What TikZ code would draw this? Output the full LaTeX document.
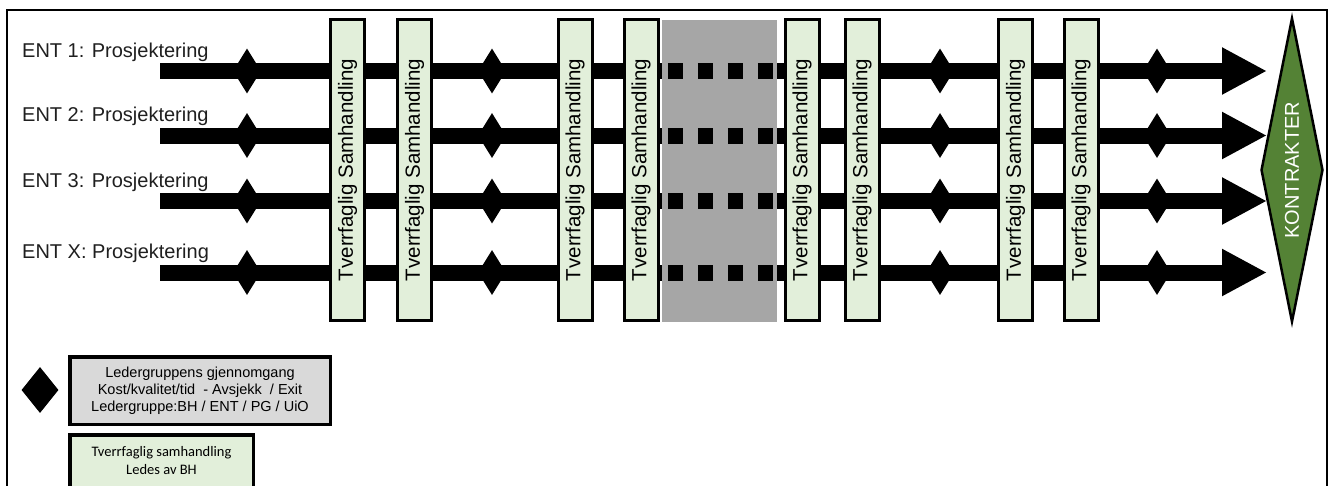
\documentclass[tikz,border=0pt]{standalone}
\usepackage{fontspec}
\setmainfont{Liberation Sans}
\newfontfamily\calfont{Carlito}
\usetikzlibrary{arrows.meta,shapes.geometric,positioning}
\definecolor{cpale}{HTML}{E2EFDA}
\definecolor{cleaf}{HTML}{548235}
\definecolor{cgrey}{HTML}{A6A6A6}
\definecolor{clite}{HTML}{D9D9D9}
\definecolor{cink}{HTML}{1F1F1F}
\tikzset{
  bar/.style={line width=16pt,black},
  gate/.style={diamond,fill=black,inner sep=0pt,minimum width=28pt,minimum height=45pt},
  sbox/.style={rotate=90,draw=black,line width=3pt,fill=cpale,inner sep=0pt,
    minimum width=301pt,minimum height=34pt,font=\fontsize{20.5}{24}\selectfont},
  rlab/.style={font=\fontsize{20}{24}\selectfont,text=cink,anchor=base west,inner sep=0pt},
  kbox/.style={draw=black,line width=3.5pt,inner sep=0pt,align=center},
}

\begin{document}
\begin{tikzpicture}[x=1pt,y=-1pt]
  \useasboundingbox (0,0) rectangle (1333,485);
  \clip (0,0) rectangle (1333,485);
  \draw[line width=2pt] (7,10) rectangle (1327,520);
  \node[fill=cgrey,minimum width=115pt,minimum height=302pt,inner sep=0pt] (grey) at (719.5,171) {};

  % four contractor tracks, broken by the grey pause
  \foreach \i/\y/\t in {1/71/1,2/135.5/2,3/201/3,4/272.5/X}{
    \node[rlab] (lab\i) at (22,\y-14) {ENT \t: Prosjektering};
    \coordinate (r\i) at (160,\y);
    \coordinate (t\i) at (1267,\y);
    \draw[bar] (r\i) -- (r\i -| grey.west);
    \draw[bar,dash pattern=on 0pt off 6pt on 15pt off 9pt] (r\i -| grey.west) -- (r\i -| grey.east);
    \draw[bar,-{Triangle[length=45pt,width=44pt]}] (r\i -| grey.east) -- (t\i);
    \foreach \x [count=\k] in {247,492,940,1157}
      \node[gate] (g\i\k) at (\x,\y) {};
  }

  \foreach \x [count=\k] in {347.5,414.5,575,641,802,862,1015.5,1081}
    \node[sbox] (s\k) at (\x,170) {Tverrfaglig Samhandling};

  \node[diamond,rotate=90,aspect=4.9,draw=black,line width=2.5pt,fill=cleaf,inner sep=0pt,
    minimum width=304pt,minimum height=62pt,text=white,font=\fontsize{20}{24}\selectfont]
    (kontr) at (1292,170) {KONTRAKTER};

  % legend
  \node[gate,minimum width=37pt,minimum height=46pt] (key) at (40,390) {};
  \node[kbox,fill=clite,minimum width=260.5pt,minimum height=67.5pt,
    font=\fontsize{14.5}{17}\selectfont] (keyg) at (200,390.5)
    {Ledergruppens gjennomgang\\Kost/kvalitet/tid\ \ - Avsjekk\ \ / Exit\\Ledergruppe:BH / ENT / PG / UiO};
  \node[kbox,fill=cpale,minimum width=183.5pt,minimum height=52.5pt,
    font=\calfont\fontsize{14.5}{18}\selectfont,below=7pt of keyg.south west,anchor=north west]
    (keys) {Tverrfaglig samhandling\\Ledes av BH};
\end{tikzpicture}
\end{document}
